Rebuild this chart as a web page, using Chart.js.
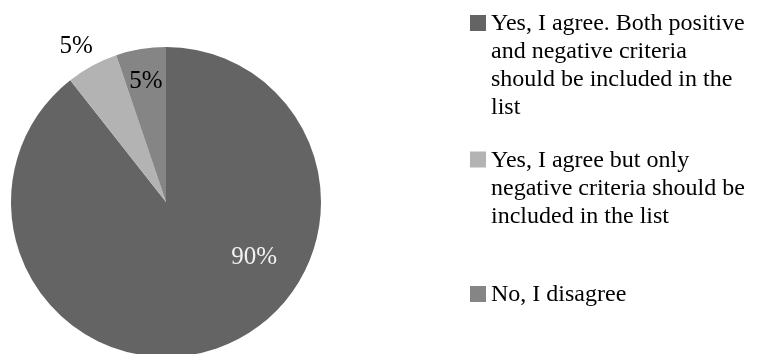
<!DOCTYPE html>
<html>
<head>
<meta charset="utf-8">
<script src="https://cdn.jsdelivr.net/npm/chart.js@4.4.1/dist/chart.umd.min.js"></script>
<style>
  html, body { margin: 0; padding: 0; background: #fff; overflow: hidden; }
  #wrap { position: relative; width: 763px; height: 360px; }
</style>
</head>
<body>
<div id="wrap"><canvas id="pieChart"></canvas></div>
<script>
// legend text, one array of lines per answer
const categories = [
    ['Yes, I agree. Both positive', 'and negative criteria', 'should be included in the', 'list'],
    ['Yes, I agree but only', 'negative criteria should be', 'included in the list'],
    ['No, I disagree']
];
const shares = [89.4, 5.4, 5.2];
const shareLabels = ['90%', '5%', '5%'];
const sliceColors = ['#646464', '#b3b3b3', '#858585'];

const serif = '"Liberation Serif", "Times New Roman", serif';

// percent labels, placed relative to the pie centre in radius units
const sliceLabels = {
    id: 'sliceLabels',
    afterDatasetsDraw(chart, args, opts) {
        const ctx = chart.ctx;
        const arcs = chart.getDatasetMeta(0).data;
        ctx.save();
        ctx.font = opts.font;
        ctx.textAlign = 'center';
        ctx.textBaseline = 'middle';
        arcs.forEach((arc, i) => {
            const off = opts.offsets[i];
            ctx.fillStyle = opts.colors[i];
            ctx.fillText(shareLabels[i], arc.x + off[0] * arc.outerRadius, arc.y + off[1] * arc.outerRadius);
        });
        ctx.restore();
    }
};

// Excel style legend on the right, wrapped lines
const sideLegend = {
    id: 'sideLegend',
    afterDraw(chart, args, opts) {
        const ctx = chart.ctx;
        ctx.save();
        ctx.font = opts.font;
        ctx.textBaseline = 'alphabetic';
        ctx.textAlign = 'left';
        categories.forEach((lines, i) => {
            const base = opts.baselines[i];
            ctx.fillStyle = sliceColors[i];
            ctx.fillRect(opts.x, base - 15, 16, 16);
            ctx.fillStyle = '#000';
            lines.forEach((line, j) => {
                ctx.fillText(line, opts.x + 21, base + j * opts.lineHeight);
            });
        });
        ctx.restore();
    }
};

const ctx = document.getElementById('pieChart').getContext('2d');
const pieChart = new Chart(ctx, {
    type: 'pie',
    data: {
        labels: categories.map(l => l.join(' ')),
        datasets: [{
            data: shares,
            backgroundColor: sliceColors,
            borderWidth: 0
        }]
    },
    options: {
        responsive: true,
        maintainAspectRatio: false,
        animation: false,
        layout: {
            padding: { left: 11, top: 47, right: 442, bottom: 3 }
        },
        plugins: {
            legend: { display: false },
            tooltip: { enabled: false },
            sliceLabels: {
                font: '25px ' + serif,
                offsets: [[0.568, 0.355], [-0.58, -1.005], [-0.129, -0.781]],
                colors: ['#f2f2f2', '#000', '#000']
            },
            sideLegend: {
                font: '24px ' + serif,
                x: 470,
                baselines: [30, 166.5, 301],
                lineHeight: 28
            }
        }
    },
    plugins: [sliceLabels, sideLegend]
});
</script>
</body>
</html>
